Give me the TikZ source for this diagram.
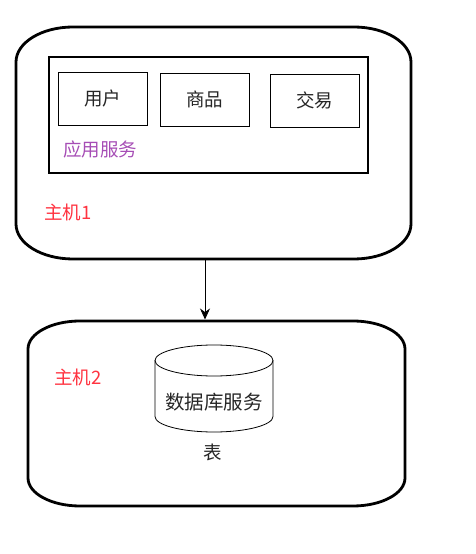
\documentclass[tikz,border=0pt]{standalone}
\usepackage{fontspec}
\setmainfont{Noto Sans CJK SC}
\usetikzlibrary{arrows.meta}
\definecolor{apppurple}{HTML}{A64DB5}
\definecolor{hostred}{HTML}{FF3340}
\tikzset{
  host/.style={line width=2.8pt},
  svcbox/.style={draw, line width=0.8pt, minimum width=89pt, minimum height=53pt, inner sep=0pt, font=\fontsize{18.5}{21}\selectfont, text=black!85},
  hostlabel/.style={anchor=west, inner sep=0pt, text=hostred, font=\fontsize{18.5}{21}\selectfont},
  plain/.style={inner sep=0pt, font=\fontsize{18.5}{21}\selectfont, text=black!85},
}
\begin{document}
\begin{tikzpicture}[x=1pt,y=1pt]
\useasboundingbox (0,0) rectangle (476,554);
% host 1
\draw[host] (73,527) -- (354,527) arc[start angle=90,end angle=0,x radius=57,y radius=35]
  -- (411,330) arc[start angle=0,end angle=-90,x radius=57,y radius=35]
  -- (73,295) arc[start angle=-90,end angle=-180,x radius=57,y radius=35]
  -- (16,492) arc[start angle=180,end angle=90,x radius=57,y radius=35] -- cycle;
\coordinate (h1b) at (205,295);
% app service box
\node[draw, line width=2.8pt, minimum width=319pt, minimum height=116pt, inner sep=0pt] (app) at (208.5,439) {};
\node[svcbox] (user) at (102.5,455.5) {用户};
\node[svcbox] (goods) at (204.5,454.5) {商品};
\node[svcbox] (trade) at (314.5,453.5) {交易};
\node[anchor=west, inner sep=0pt, text=apppurple, font=\fontsize{18.5}{21}\selectfont] (applabel) at (63,405) {应用服务};
\node[hostlabel] (h1label) at (44,342) {主机1};
% host 2
\draw[host] (80,233) -- (353,233) arc[start angle=90,end angle=0,x radius=52,y radius=28]
  -- (405,76) arc[start angle=0,end angle=-90,x radius=52,y radius=28]
  -- (80,48) arc[start angle=-90,end angle=-180,x radius=52,y radius=28]
  -- (28,205) arc[start angle=180,end angle=90,x radius=52,y radius=28] -- cycle;
\coordinate (h2t) at (205,234.5);
\node[hostlabel] (h2label) at (54,177) {主机2};
% database cylinder
\draw[line width=0.8pt] (214,193.5) ellipse[x radius=59, y radius=15.5];
\draw[line width=0.8pt] (155,193.5) -- (155,137.5) arc[start angle=180,end angle=360,x radius=59,y radius=15.5] -- (273,193.5);
\node[plain, font=\fontsize{19.5}{22}\selectfont] (db) at (214,152) {数据库服务};
\node[plain] (table) at (213,102) {表};
% arrow
\draw[line width=0.8pt, -{Stealth[length=11pt,width=10pt]}] (h1b) -- (h2t);
\end{tikzpicture}
\end{document}
